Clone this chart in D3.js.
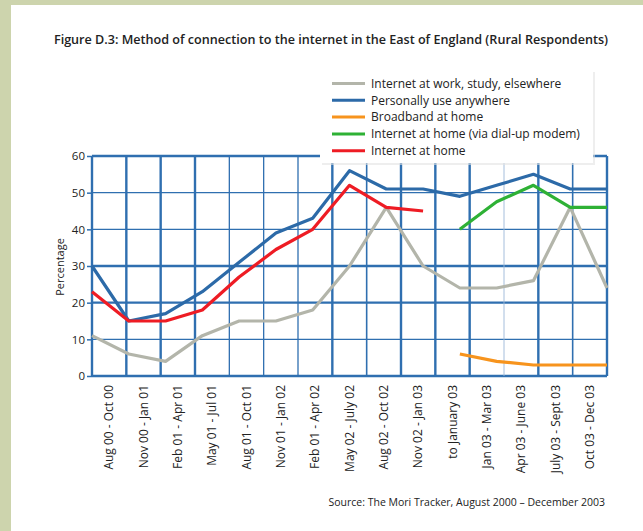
<!DOCTYPE html>
<html>
<head>
<meta charset="utf-8">
<title>Figure D.3</title>
<script src="https://cdn.jsdelivr.net/npm/d3@7/dist/d3.min.js"></script>
<style>
  body { margin: 0; background: #cdd4ad; }
  svg { display: block; }
  text { font-family: "Open Sans", "Noto Sans", sans-serif; fill: #222; }
</style>
</head>
<body>
<script>
// periods (x axis)
var periods = ["Aug 00 - Oct 00", "Nov 00 - Jan 01", "Feb 01 - Apr 01", "May 01 - Jul 01",
  "Aug 01 - Oct 01", "Nov 01 - Jan 02", "Feb 01 - Apr 02", "May 02 - July 02",
  "Aug 02 - Oct 02", "Nov 02 - Jan 03", "to January 03", "Jan 03 - Mar 03",
  "Apr 03 - June 03", "July 03 - Sept 03", "Oct 03 - Dec 03"];

var yTicks = [0, 10, 20, 30, 40, 50, 60];

// series values, null = no data
var workStudy  = [11, 6, 4, 11, 15, 15, 18, 30, 46, 30, 24, 24, 26, 46, 24];
var anywhere   = [30, 15, 17, 23, 31, 39, 43, 56, 51, 51, 49, 52, 55, 51, 51];
var broadband  = [null, null, null, null, null, null, null, null, null, null, 6, 4, 3, 3, 3];
var dialup     = [null, null, null, null, null, null, null, null, null, null, 40, 47.5, 52, 46, 46];
var atHome     = [23, 15, 15, 18, 27, 34.5, 40, 52, 46, 45, null, null, null, null, null];

var seriesNames = ["Internet at work, study, elsewhere", "Personally use anywhere",
  "Broadband at home", "Internet at home (via dial-up modem)", "Internet at home"];
var seriesData = [workStudy, anywhere, broadband, dialup, atHome];
var seriesColors = ["#b3b5aa", "#2c6aa8", "#f7941d", "#2eb135", "#ee1c24"];

var W = 643, H = 531;
var plotL = 92, plotR = 607, plotT = 156, plotB = 376;
var gridBlue = "#2f6fb0";

var svg = d3.select("body").append("svg").attr("width", W).attr("height", H);

// white panel on green frame
svg.append("rect").attr("x", 11).attr("y", 5).attr("width", W - 11).attr("height", H - 5).attr("fill", "#fff");

svg.append("text").attr("x", 331).attr("y", 44).attr("text-anchor", "middle")
  .style("font-size", "12.6px").style("font-weight", 600)
  .text("Figure D.3: Method of connection to the internet in the East of England (Rural Respondents)");

var y = d3.scaleLinear().domain([0, 60]).range([plotB, plotT]);
var xBand = d3.scaleBand().domain(periods).range([plotL, plotR]);
var xPt = d3.scalePoint().domain(periods).range([plotL, plotR]);

// horizontal grid
var hWidths = {0: 2.4, 10: 1.3, 20: 2.4, 30: 2.4, 40: 1.3, 50: 1.3, 60: 2.4};
svg.append("g").selectAll("line").data(yTicks).join("line")
  .attr("x1", plotL).attr("x2", plotR)
  .attr("y1", function(d) { return y(d); }).attr("y2", function(d) { return y(d); })
  .attr("stroke", gridBlue).attr("stroke-width", function(d) { return hWidths[d]; });

// vertical grid: band edges
var vEdges = periods.map(function(p) { return xBand(p); }).concat([plotR]);
var vWidths = [2.4, 2.4, 2.4, 2.4, 1.3, 1.3, 1.3, 2.4, 1.6, 2.4, 2.4, 2.4, 0.9, 2.4, 1.6, 2.4];
svg.append("g").selectAll("line").data(vEdges).join("line")
  .attr("x1", function(d) { return d; }).attr("x2", function(d) { return d; })
  .attr("y1", plotT).attr("y2", plotB)
  .attr("stroke", function(d, i) { return i === 12 ? "#9bb7d8" : gridBlue; })
  .attr("stroke-width", function(d, i) { return vWidths[i]; });

// y axis labels
var yAxis = d3.axisLeft(y).tickValues(yTicks).tickSize(5).tickPadding(2);
var ga = svg.append("g").attr("transform", "translate(" + plotL + ",0)").call(yAxis);
ga.select(".domain").remove();
ga.selectAll("line").attr("stroke", gridBlue).attr("stroke-width", 1.5);
ga.selectAll("text").style("font-size", "11.5px").style("font-family", "'Open Sans', sans-serif").attr("fill", "#333");

svg.append("text").attr("transform", "translate(64,267) rotate(-90)")
  .attr("text-anchor", "middle").style("font-size", "11px").text("Percentage");

// x axis labels
var xAxis = d3.axisBottom(xBand).tickSize(0).tickPadding(0);
var gx = svg.append("g").attr("transform", "translate(0," + plotB + ")").call(xAxis);
gx.select(".domain").remove();
gx.selectAll("text")
  .style("font-size", "12px").style("font-family", "'Open Sans', sans-serif").attr("fill", "#333")
  .attr("text-anchor", "end").attr("dy", "0.35em")
  .attr("transform", "translate(0,9) rotate(-90)").attr("x", 0).attr("y", 0);

// series lines
var line = d3.line()
  .defined(function(d) { return d != null; })
  .x(function(d, i) { return xPt(periods[i]); })
  .y(function(d) { return y(d); });

svg.append("g").selectAll("path").data(seriesData).join("path")
  .attr("d", function(d) { return line(d); })
  .attr("fill", "none")
  .attr("stroke", function(d, i) { return seriesColors[i]; })
  .attr("stroke-width", 3.2)
  .attr("stroke-linejoin", "round");

// legend
var lg = svg.append("g").attr("transform", "translate(320,70)");
lg.append("rect").attr("x", 2).attr("y", 2).attr("width", 273).attr("height", 93).attr("fill", "#e2e2e2").attr("opacity", 0.6);
lg.append("rect").attr("width", 273).attr("height", 93).attr("fill", "#fff");
var rows = lg.selectAll("g").data(seriesNames).join("g")
  .attr("transform", function(d, i) { return "translate(0," + (13.5 + i * 16.8) + ")"; });
rows.append("line").attr("x1", 12).attr("x2", 45).attr("y1", 0).attr("y2", 0)
  .attr("stroke", function(d, i) { return seriesColors[i]; }).attr("stroke-width", 3);
rows.append("text").attr("x", 51).attr("dy", "0.35em").style("font-size", "12px")
  .text(function(d) { return d; });

svg.append("text").attr("x", 605).attr("y", 506).attr("text-anchor", "end")
  .style("font-size", "10.5px").text("Source: The Mori Tracker, August 2000 \u2013 December 2003");
</script>
</body>
</html>
